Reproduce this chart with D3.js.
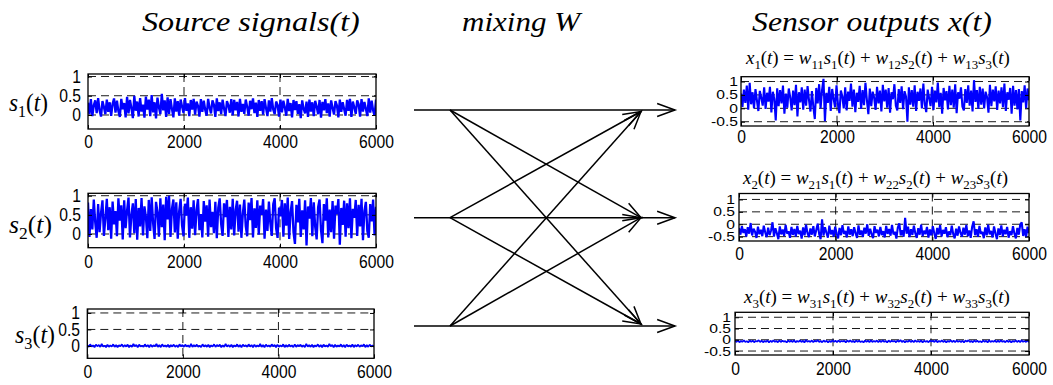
<!DOCTYPE html>
<html><head><meta charset="utf-8">
<script src="https://cdn.jsdelivr.net/npm/d3@7"></script>
<style>html,body{margin:0;padding:0;background:#fff;} svg{display:block;} text{white-space:pre;}</style>
</head><body><svg id="c" width="1053" height="385"></svg>
<script>
// ---------- data ----------
const xTickValues = [0, 2000, 4000, 6000];
const sourceTickValues = [0, 0.5, 1];
const sensorTickValues = [-0.5, 0, 0.5, 1];
const sampleSpan = 6000;

const s1 = [.32,.02,.41,-.03,.25,.38,.05,.44,.12,-.04,.36,.21,.02,.40,.08,.33,-.02,.29,.43,.06,
.37,.10,-.05,.42,.15,.31,-.06,.47,.04,.39,.18,-.08,.50,.11,.35,-.04,.44,.09,.27,-.07,
.48,.14,.40,-.03,.52,.07,.33,-.09,.45,.20,.02,.55,.12,.38,-.05,.46,.03,.41,.16,-.06,
.43,.09,.36,-.02,.40,.22,.05,.44,.11,.30,-.03,.39,.14,.42,.01,.35,.24,-.04,.41,.08,
.37,.13,-.02,.42,.19,.04,.38,.27,-.05,.43,.10,.33,.02,.40,.17,-.03,.36,.25,.06,.41,
-.01,.39,.12,.34,-.04,.42,.08,.29,.03,.40,.21,-.02,.37,.15,.43,.05,.32,-.05,.39,.11,
.36,.01,.41,.18,-.03,.38,.09,.44,.14,.02,.35,.26,-.04,.40,.07,.37,.20,-.02,.42,.10,
.31,-.06,.39,.13,.36,.03,.28,-.08,.38,.16,.04,.35,-.05,.40,.09,.33,-.03,.37,.22,.02,
.39,-.07,.34,.12,.41,.05,.30,-.04,.38,.18,.01,.36,.25,-.06,.40,.08,.33,.15,-.02,.39,
.11,.42,-.05,.35,.20,.03,.38,.28,-.04,.41,.09,.34,.16,-.03,.43,.06,.37,.12,-.02,.40];

const s2 = [.82,-.08,.65,.12,.90,.30,-.10,.78,.05,.55,.88,-.05,.40,.92,.10,.70,-.12,.85,.25,.60,
-.06,.93,.35,.75,-.14,.88,.15,.62,.95,-.09,.50,.80,.02,.91,-.15,.68,.20,.94,-.04,.72,
.45,-.11,.89,.08,.96,.28,-.13,.84,.58,-.07,.93,.18,.77,-.16,.97,.38,1.0,-.08,.66,.90,
.04,.83,-.12,.60,.92,.22,-.06,.79,.48,.95,-.10,.70,.14,.88,-.03,.63,.91,.10,.52,-.09,
.86,.32,.75,-.07,.90,.18,.58,.02,.84,-.11,.68,.93,.26,-.05,.80,.44,.89,-.08,.71,.12,
.92,-.04,.62,.87,.06,.77,-.10,.54,.90,.20,-.06,.82,.36,.94,-.09,.67,.16,.88,-.02,.74,
.50,.91,-.12,.64,.08,.85,.28,-.05,.78,.93,.14,-.10,.69,.46,.89,-.07,.80,.22,.95,-.13,
.58,.86,.04,-.26,.76,.30,.92,-.08,.62,.12,.88,-.30,.72,.40,.94,-.06,.83,.18,-.14,.70,
.90,.10,-.24,.78,.35,.93,-.09,.64,.05,.86,-.12,.74,.52,.91,-.28,.68,.24,.87,-.07,.80,
.15,.93,-.11,.66,.42,.89,-.05,.76,.20,.92,-.16,.60,.84,.08,-.10,.78,.33,.90,-.04,.71];

const s3 = [.03,-.03,.05,-.02,.02,-.04,.04,-.01,.03,-.03,.06,-.02,.01,-.04,.04,-.03,.02,-.02,.05,-.03,
.03,-.04,.02,-.01,.05,-.03,.03,-.02,.04,-.04,.02,-.03,.06,-.01,.03,-.04,.04,-.02,.01,-.03,
.05,-.02,.03,-.04,.04,-.03,.02,-.01,.06,-.03,.03,-.04,.05,-.02,.02,-.03,.04,-.04,.03,-.02,
.04,-.03,.02,-.04,.05,-.01,.03,-.03,.04,-.02,.02,-.04,.06,-.03,.03,-.02,.04,-.03,.01,-.04,
.05,-.02,.03,-.03,.04,-.04,.02,-.02,.05,-.03,.03,-.01,.04,-.04,.02,-.03,.06,-.02,.03,-.03,
.04,-.04,.02,-.02,.05,-.03,.03,-.04,.04,-.01,.02,-.03,.05,-.02,.03,-.04,.04,-.03,.02,-.02,
.06,-.03,.03,-.04,.04,-.02,.02,-.03,.05,-.01,.03,-.04,.04,-.03,.02,-.02,.05,-.04,.03,-.03,
.04,-.02,.02,-.04,.05,-.03,.03,-.01,.04,-.03,.02,-.04,.06,-.02,.03,-.03,.04,-.04,.02,-.02,
.05,-.03,.03,-.04,.04,-.02,.02,-.03,.06,-.01,.03,-.04,.04,-.03,.02,-.02,.05,-.03,.03,-.04,
.04,-.02,.02,-.03,.05,-.04,.03,-.02,.04,-.03,.02,-.01,.05,-.04,.03,-.03,.04,-.02,.02,-.03];

const x1 = [.55,.05,.70,.20,.85,-.05,.95,.15,.60,.00,.72,.30,-.10,.65,.40,.10,.78,-.02,.58,.25,
.80,-.15,.62,.35,-.45,.75,.08,.68,.18,.85,-.20,.55,.02,.74,.42,-.08,.66,.12,.88,-.30,
.60,.22,.78,-.05,.70,.10,.83,.30,-.12,.64,.05,-.40,.76,.18,.90,.00,.68,1.10,-.48,.58,
.20,.80,-.10,.72,.35,.04,.86,.15,-.18,.66,.45,.00,.78,-.08,.62,.28,.92,.06,.70,-.14,
.58,.24,.84,-.02,.68,.12,.95,.30,-.22,.74,.08,.62,.40,-.06,.80,.18,.66,-.12,.88,.26,
.70,.02,.76,-.16,.60,.34,.90,.10,-.08,.72,.20,.82,-.03,.64,.44,-.50,.78,.14,.68,.06,
.86,-.10,.62,.28,.74,.00,.92,.16,-.14,.70,.38,.08,.80,-.06,.66,.22,.96,.04,.58,-.20,
.76,.30,.64,-.04,.84,.12,.70,.02,.90,-.18,.60,.36,.78,.06,-.08,.72,.20,.86,.10,.66,
-.12,1.05,.24,.68,-.02,.80,.14,.74,.00,.62,.42,-.16,.88,.08,.70,.26,.82,-.06,.66,.18,
.78,.04,.92,-.10,.60,.32,.76,-.20,.84,.10,.68,-.04,.72,-.45,.64,.22,.86,.00,.74,.30];

const x2 = [-.15,-.42,-.08,-.35,-.20,-.50,-.12,-.38,.05,-.45,-.18,-.30,-.55,-.10,-.40,-.22,-.48,-.06,-.33,-.52,
-.14,-.44,-.25,.08,-.50,-.16,-.36,-.60,-.09,-.41,-.21,-.47,-.03,-.38,-.28,-.55,-.11,-.43,-.19,-.50,
-.07,-.40,-.26,-.58,-.13,-.45,-.02,-.36,-.52,-.17,-.42,-.08,-.49,-.24,.02,-.39,-.60,.20,-.46,-.12,
-.34,-.54,-.06,-.41,-.23,-.50,-.10,-.37,-.57,-.15,-.44,-.04,-.39,-.27,-.53,-.09,-.42,-.20,-.48,-.12,
-.36,-.55,-.05,-.43,-.25,-.51,-.14,-.38,.00,-.47,-.18,-.40,-.56,-.08,-.35,-.22,-.49,-.11,-.44,-.28,
-.53,-.07,-.39,-.19,-.46,-.03,-.41,-.30,-.58,-.13,.04,-.45,-.24,-.50,.26,-.38,-.10,-.52,-.20,-.43,
-.06,-.37,-.55,-.16,-.42,-.02,-.48,-.26,-.40,-.11,-.54,-.21,-.45,-.08,-.36,-.59,-.15,-.41,-.04,-.49,
-.23,-.38,-.12,-.52,-.29,-.44,-.06,-.40,-.57,-.18,-.46,-.09,-.35,-.50,-.14,-.42,-.03,-.48,-.25,-.55,
-.10,.12,-.44,-.20,-.51,-.07,-.39,-.31,-.56,-.13,-.45,-.02,-.41,-.27,-.53,-.09,-.37,-.60,-.17,-.43,
-.05,-.49,-.22,-.40,-.11,-.54,-.28,-.44,-.08,-.38,-.57,-.15,-.42,-.01,.08,-.47,-.20,-.52,-.10,-.36];

const x3 = [-.04,-.10,-.03,-.11,-.05,-.09,-.02,-.10,-.06,-.12,-.03,-.09,-.04,-.11,-.05,-.08,-.02,-.10,-.04,-.11,
-.05,-.09,-.03,-.12,-.04,-.10,-.02,-.09,-.05,-.11,-.03,-.10,-.04,-.08,-.06,-.12,-.03,-.09,-.04,-.10,
-.02,-.11,-.05,-.09,-.03,-.10,-.04,-.12,-.01,-.09,-.05,-.10,-.03,-.11,-.04,-.08,-.02,-.10,-.05,-.11,
-.03,-.09,-.04,-.12,-.05,-.10,-.02,-.09,-.04,-.11,-.03,-.10,-.05,-.08,-.04,-.12,-.03,-.09,-.02,-.10,
-.05,-.11,-.03,-.09,-.04,-.10,-.06,-.12,-.03,-.09,-.04,-.11,-.02,-.10,-.05,-.09,-.03,-.11,-.04,-.10,
-.02,-.09,-.05,-.12,-.03,-.10,-.04,-.08,-.05,-.11,-.03,-.09,-.01,-.10,-.04,-.12,-.05,-.09,-.03,-.10,
-.04,-.11,-.02,-.09,-.05,-.10,-.03,-.12,-.04,-.09,-.05,-.11,-.03,-.08,-.04,-.10,-.02,-.11,-.05,-.09,
-.03,-.10,-.04,-.12,-.05,-.09,-.02,-.10,-.04,-.11,-.03,-.09,-.05,-.10,-.04,-.12,-.03,-.08,-.02,-.10,
-.05,-.11,-.03,-.09,-.04,-.10,-.06,-.11,-.03,-.09,-.04,-.12,-.02,-.10,-.05,-.09,-.03,-.11,-.04,-.10,
-.02,-.09,-.05,-.11,-.03,-.10,-.04,-.12,-.05,-.09,-.03,-.10,-.04,-.11,-.02,-.09,-.05,-.10,-.03,-.11];

const sourceLabels = ["s_1(t)", "s_2(t)", "s_3(t)"];
const sensorLabels = ["x_1(t) = w_11s_1(t) + w_12s_2(t) + w_13s_3(t)",
                      "x_2(t) = w_21s_1(t) + w_22s_2(t) + w_23s_3(t)",
                      "x_3(t) = w_31s_1(t) + w_32s_2(t) + w_33s_3(t)"];
const headings = ["Source signals(t)", "mixing W", "Sensor outputs x(t)"];

// ---------- layout ----------
const svg = d3.select("#c");
const serif = "'Liberation Serif','Times New Roman',Times,serif";
const sans = "'Liberation Sans',Arial,Helvetica,sans-serif";
const tickFont = 18, tickSX = 0.87;

const panels = [
  {data:s1, ticks:sourceTickValues, xr:[88,376],  yr:[129,74],     dom:[-0.364,1.065], labX:81,  sy:1,    sw:2.3, xlabOff:12.7},
  {data:s2, ticks:sourceTickValues, xr:[88,376],  yr:[247.7,193.3],dom:[-0.358,1.063], labX:81,  sy:1,    sw:2.3, xlabOff:13.5},
  {data:s3, ticks:sourceTickValues, xr:[87.3,374],yr:[358.3,309],  dom:[-0.375,1.12],  labX:80,  sy:1,    sw:1.7, xlabOff:13.4},
  {data:x1, ticks:sensorTickValues, xr:[741,1029],yr:[126,76.7],   dom:[-0.66,1.18],   labX:738, sy:0.7,  sw:2.1, xlabOff:11},
  {data:x2, ticks:sensorTickValues, xr:[739,1029],yr:[241,193.5],  dom:[-0.675,1.24],  labX:735, sy:0.7,  sw:2.1, xlabOff:12.5},
  {data:x3, ticks:sensorTickValues, xr:[735,1029],yr:[355,312.3],  dom:[-0.676,1.22],  labX:731, sy:0.7,  sw:1.7, xlabOff:14}
];

const fmt = d => String(d);

panels.forEach((p, k) => {
  const x = d3.scaleLinear().domain([0, sampleSpan]).range(p.xr);
  const y = d3.scaleLinear().domain(p.dom).range(p.yr);
  const g = svg.append("g");
  const clipId = "clip" + k;
  svg.append("clipPath").attr("id", clipId).append("rect")
    .attr("x", p.xr[0]).attr("y", p.yr[1]).attr("width", p.xr[1]-p.xr[0]).attr("height", p.yr[0]-p.yr[1]);

  // grid
  const grid = g.append("g").attr("stroke", "#000").attr("stroke-width", 0.9).attr("stroke-dasharray", "8,5");
  grid.selectAll("line.h").data(p.ticks).join("line").attr("class","h")
    .attr("x1", p.xr[0]).attr("x2", p.xr[1]).attr("y1", d => y(d)).attr("y2", d => y(d));
  grid.selectAll("line.v").data(xTickValues.slice(1, -1)).join("line").attr("class","v")
    .attr("y1", p.yr[1]).attr("y2", p.yr[0]).attr("x1", d => x(d)).attr("x2", d => x(d));

  // signal
  const line = d3.line().x((d, i) => x(i * sampleSpan / (p.data.length - 1))).y(d => y(d));
  g.append("path").datum(p.data).attr("clip-path", `url(#${clipId})`)
    .attr("d", line).attr("fill", "none").attr("stroke", "#0000ff").attr("stroke-width", p.sw)
    .attr("stroke-linejoin", "bevel");

  // axes (inward ticks)
  const ax = g.append("g").attr("transform", `translate(0,${p.yr[0]})`)
    .call(d3.axisBottom(x).tickValues(xTickValues).tickFormat(fmt).tickSizeInner(-4).tickSizeOuter(0).tickPadding(p.xlabOff - 6.3));
  g.append("g").attr("transform", `translate(0,${p.yr[1]})`)
    .call(d3.axisTop(x).tickValues(xTickValues).tickFormat("").tickSizeInner(-4).tickSizeOuter(0));
  const ay = g.append("g").attr("transform", `translate(${p.xr[0]},0)`)
    .call(d3.axisLeft(y).tickValues(p.ticks).tickFormat(fmt).tickSizeInner(-4).tickSizeOuter(0));
  g.append("g").attr("transform", `translate(${p.xr[1]},0)`)
    .call(d3.axisRight(y).tickValues(p.ticks).tickFormat("").tickSizeInner(-4).tickSizeOuter(0));
  g.selectAll(".domain").remove();
  g.selectAll(".tick line").attr("stroke", "#000");
  g.selectAll(".tick text").attr("fill", "#000").style("font-family", sans).style("font-size", tickFont + "px");
  ax.selectAll(".tick text").attr("transform", `scale(${tickSX},1)`);
  ay.selectAll(".tick text")
    .attr("x", -(p.xr[0] - p.labX) / tickSX)
    .attr("transform", `scale(${tickSX},${p.sy})`);

  // box
  g.append("rect").attr("x", p.xr[0]).attr("y", p.yr[1]).attr("width", p.xr[1]-p.xr[0]).attr("height", p.yr[0]-p.yr[1])
    .attr("fill", "none").attr("stroke", "#000").attr("stroke-width", 1.3);
});

// ---------- math-style text ----------
function mathText(str, x0, x1, baseline, size, allItalic) {
  const t = svg.append("text").attr("x", 0).attr("y", 0)
    .style("font-family", serif).style("font-size", size + "px").attr("fill", "#000");
  const sh = size * 0.24;
  let i = 0, lowered = false;
  const isL = c => /[A-Za-z]/.test(c);
  while (i < str.length) {
    if (str[i] === "_") {
      let j = i + 1; while (j < str.length && /[0-9]/.test(str[j])) j++;
      t.append("tspan").attr("dy", lowered ? 0 : sh).style("font-size", (size*0.68) + "px")
        .style("font-style", "normal").text(str.slice(i+1, j));
      lowered = true; i = j; continue;
    }
    const cls = allItalic ? true : isL(str[i]);
    let j = i + 1;
    while (j < str.length && str[j] !== "_" && (allItalic || isL(str[j]) === cls)) j++;
    t.append("tspan").attr("dy", lowered ? -sh : 0)
      .style("font-style", cls ? "italic" : "normal").text(str.slice(i, j));
    lowered = false; i = j;
  }
  const bb = t.node().getBBox();
  const sx = (x1 - x0) / bb.width;
  t.attr("transform", `translate(${x0 - bb.x * sx},${baseline}) scale(${sx},1)`);
  return t;
}

// headings
const headingPos = [[142, 360], [462, 583], [752, 992]];
headings.forEach((h, i) => mathText(h, headingPos[i][0], headingPos[i][1], 31, 28, true));

// source labels
const sourceLabelPos = [[9, 48, 111], [9, 52, 232.5], [15, 55, 343]];
sourceLabels.forEach((s, i) => mathText(s, sourceLabelPos[i][0], sourceLabelPos[i][1], sourceLabelPos[i][2], 25, false));

// sensor equations
const sensorLabelPos = [[745, 1010, 64], [742, 1008, 184], [743, 1010, 303]];
sensorLabels.forEach((s, i) => mathText(s, sensorLabelPos[i][0], sensorLabelPos[i][1], sensorLabelPos[i][2], 19, false));

// ---------- mixing arrows ----------
const srcY = [110, 217.7, 326];
const tgtY = [111.5, 217.7, 324];
const lineStart = 414, branchX = 450, diagTipX = 641, straightTipX = 675;
const arrows = svg.append("g").attr("stroke", "#000").attr("stroke-width", 1.5).attr("fill", "none");
function arrow(xa, ya, xb, yb) {
  arrows.append("line").attr("x1", xa).attr("y1", ya).attr("x2", xb).attr("y2", yb);
  const ang = Math.atan2(yb - ya, xb - xa), L = 19, a = 20 * Math.PI / 180;
  const p1 = [xb - L * Math.cos(ang - a), yb - L * Math.sin(ang - a)];
  const p2 = [xb - L * Math.cos(ang + a), yb - L * Math.sin(ang + a)];
  arrows.append("path").attr("d", `M${p1[0]},${p1[1]}L${xb},${yb}L${p2[0]},${p2[1]}`);
}
srcY.forEach((ys, i) => {
  arrow(lineStart, ys, straightTipX, ys);
  tgtY.forEach((yt, j) => { if (i !== j) arrow(branchX, ys, diagTipX, yt); });
});
</script></body></html>
